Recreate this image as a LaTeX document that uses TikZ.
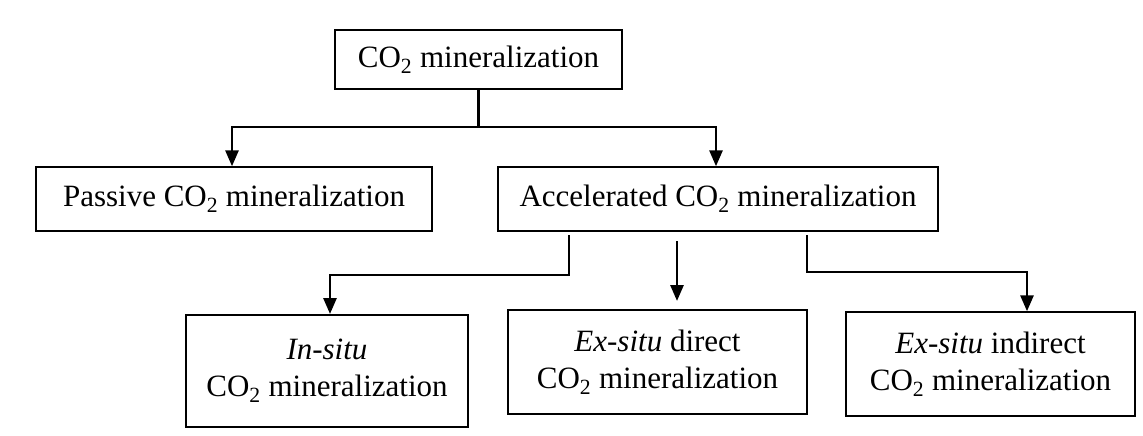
\documentclass[tikz,border=0pt]{standalone}
\usepackage{fontspec}
\setmainfont{Liberation Serif}
\usetikzlibrary{arrows.meta}
\newcommand{\COtwo}{CO\textsubscript{2}}
\begin{document}
\begin{tikzpicture}[x=1pt,y=-1pt,
  box/.style={draw,line width=1.4pt,inner sep=0pt,align=center,
    font=\fontsize{31}{37}\selectfont},
  conn/.style={line width=2.8pt},
  arr/.style={line width=2.8pt,-{Triangle[length=16pt,width=13pt]}}]
\useasboundingbox (0,0) rectangle (1143,436);
\node[box,minimum width=287pt,minimum height=59pt] (top) at (478.5,59.5) {\COtwo{} mineralization};
\node[box,minimum width=396pt,minimum height=64pt] (pas) at (234,199) {Passive \COtwo{} mineralization};
\node[box,minimum width=440pt,minimum height=64pt] (acc) at (718,199) {Accelerated \COtwo{} mineralization};
\node[box,minimum width=282pt,minimum height=112pt] (ins) at (327,371) {\textit{In-situ}\\\COtwo{} mineralization};
\node[box,minimum width=299pt,minimum height=104pt] (exd) at (657.5,362) {\textit{Ex-situ} direct\\\COtwo{} mineralization};
\node[box,minimum width=289pt,minimum height=104pt] (exi) at (990.5,364) {\textit{Ex-situ} indirect\\\COtwo{} mineralization};
% top connectors
\coordinate (j) at (478.5,127);
\coordinate (jl) at (232,127);
\coordinate (jr) at (716,127);
\draw[conn] (top.south) -- (j);
\draw[arr] (j) -- (jl) -- (jl |- pas.north);
\draw[arr] (j) -- (jr) -- (jr |- acc.north);
% lower connectors
\coordinate (l0) at (569,235);
\coordinate (l1) at (569,275);
\coordinate (l2) at (330,275);
\coordinate (l3) at (330,314);
\draw[arr] (l0) -- (l1) -- (l2) -- (l3);
\coordinate (m0) at (677,241);
\coordinate (m1) at (677,301);
\draw[arr] (m0) -- (m1);
\coordinate (r0) at (807,235);
\coordinate (r1) at (807,272);
\coordinate (r2) at (1027,272);
\draw[arr] (r0) -- (r1) -- (r2) -- (r2 |- exi.north);
\end{tikzpicture}
\end{document}
